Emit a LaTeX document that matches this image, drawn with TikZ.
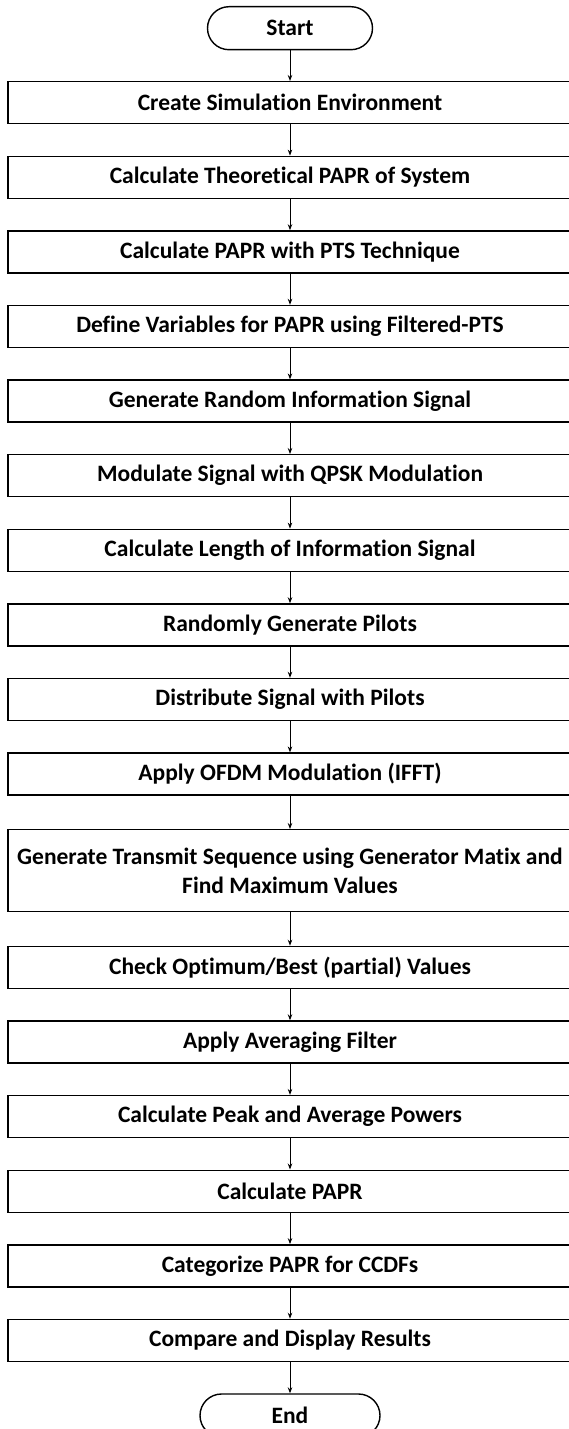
\documentclass[tikz,border=0pt]{standalone}
\usepackage{fontspec}
\setmainfont{Carlito}[Ligatures=NoCommon]
\usetikzlibrary{arrows.meta}
\begin{document}
\begin{tikzpicture}[x=1pt,y=-1pt,
  stepbox/.style={draw, line width=1.4pt, minimum width=564pt, minimum height=42pt, inner sep=0pt,
    font=\bfseries\fontsize{23.5}{29}\selectfont, align=center, anchor=north},
  termbox/.style={draw, line width=1.4pt, minimum width=165pt, minimum height=43pt, inner sep=0pt,
    rounded corners=21.5pt, font=\bfseries\fontsize{23.5}{29}\selectfont, anchor=north},
  arr/.style={-{Stealth[length=6pt,width=4.5pt]}, line width=0.9pt}]
\useasboundingbox (0,0) rectangle (568,1429);
\node[termbox] (start) at (290,6) {Start};
\node[stepbox] (b1) at (290,81) {Create Simulation Environment};
\node[stepbox] (b2) at (290,155.6) {Calculate Theoretical PAPR of System};
\node[stepbox] (b3) at (290,230.2) {Calculate PAPR with PTS Technique};
\node[stepbox] (b4) at (290,304.8) {Define Variables for PAPR using Filtered-PTS};
\node[stepbox] (b5) at (290,379.4) {Generate Random Information Signal};
\node[stepbox] (b6) at (290,454) {Modulate Signal with QPSK Modulation};
\node[stepbox] (b7) at (290,528.6) {Calculate Length of Information Signal};
\node[stepbox] (b8) at (290,603.2) {Randomly Generate Pilots};
\node[stepbox] (b9) at (290,677.8) {Distribute Signal with Pilots};
\node[stepbox] (b10) at (290,752.4) {Apply OFDM Modulation (IFFT)};
\node[stepbox, minimum height=82pt] (b11) at (290,829) {Generate Transmit Sequence using Generator Matix and\\Find Maximum Values};
\node[stepbox] (b12) at (290,945.7) {Check Optimum/Best (partial) Values};
\node[stepbox] (b13) at (290,1020.3) {Apply Averaging Filter};
\node[stepbox] (b14) at (290,1094.9) {Calculate Peak and Average Powers};
\node[stepbox] (b15) at (290,1169.5) {Calculate PAPR};
\node[stepbox] (b16) at (290,1244.1) {Categorize PAPR for CCDFs};
\node[stepbox] (b17) at (290,1318.7) {Compare and Display Results};
\node[termbox, minimum width=180pt] (end) at (290,1393.3) {End};
\draw[arr] (start) -- (b1);
\foreach \a/\b in {b1/b2,b2/b3,b3/b4,b4/b5,b5/b6,b6/b7,b7/b8,b8/b9,b9/b10,b10/b11,b11/b12,b12/b13,b13/b14,b14/b15,b15/b16,b16/b17}
  \draw[arr] (\a) -- (\b);
\draw[arr] (b17) -- (end);
\end{tikzpicture}
\end{document}
